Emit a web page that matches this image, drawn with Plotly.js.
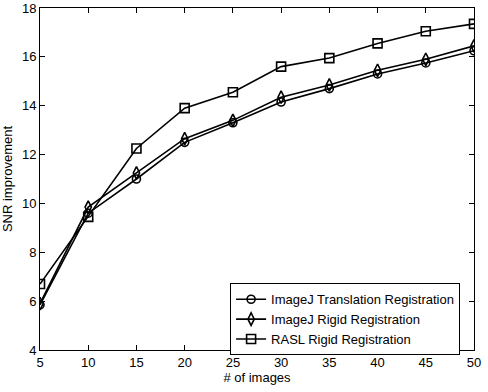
<!DOCTYPE html>
<html>
<head>
<meta charset="utf-8">
<script src="https://cdn.plot.ly/plotly-3.0.1.min.js"></script>
<style>
  body { margin: 0; background: #fff; }
  #plot { width: 488px; height: 392px; }
</style>
</head>
<body>
<div id="plot"></div>
<script>
// Number of images used in the registration
const numImages = [5, 10, 15, 20, 25, 30, 35, 40, 45, 50];

// SNR improvement per method
const translationSNR = [5.85, 9.6, 11.0, 12.5, 13.3, 14.15, 14.7, 15.3, 15.75, 16.25];
const rigidSNR = [5.9, 9.85, 11.25, 12.65, 13.4, 14.35, 14.85, 15.45, 15.9, 16.45];
const raslSNR = [6.7, 9.45, 12.25, 13.9, 14.55, 15.6, 15.95, 16.55, 17.05, 17.35];

const seriesNames = ["ImageJ Translation Registration", "ImageJ Rigid Registration", "RASL Rigid Registration"];

const xTicks = [5, 10, 15, 20, 25, 30, 35, 40, 45, 50];
const yTicks = [4, 6, 8, 10, 12, 14, 16, 18];

function makeTrace(y, name, symbol, size) {
    return {
        x: numImages,
        y: y,
        name: name,
        mode: 'lines+markers',
        line: { color: 'black', width: 1.6 },
        marker: { symbol: symbol, size: size, color: 'black', line: { color: 'black', width: 1.6 } }
    };
}

const traces = [
    makeTrace(translationSNR, seriesNames[0], 'circle-open', 8),
    makeTrace(rigidSNR, seriesNames[1], 'diamond-tall-open', 9),
    makeTrace(raslSNR, seriesNames[2], 'square-open', 9)
];

const axisCommon = {
    showline: true,
    linecolor: 'black',
    linewidth: 1,
    mirror: 'ticks',
    ticks: 'inside',
    ticklen: 5,
    tickcolor: 'black',
    showgrid: false,
    zeroline: false,
    tickfont: { size: 13, color: 'black' }
};

const layout = {
    width: 488,
    height: 392,
    margin: { l: 40, r: 14, t: 8, b: 42 },
    paper_bgcolor: 'white',
    plot_bgcolor: 'white',
    font: { family: 'Arial, "Liberation Sans", sans-serif', size: 13, color: 'black' },
    showlegend: true,
    xaxis: Object.assign({}, axisCommon, {
        range: [5, 50],
        tickvals: xTicks,
        title: { text: '# of images', font: { size: 13 }, standoff: 2 }
    }),
    yaxis: Object.assign({}, axisCommon, {
        range: [4, 18],
        tickvals: yTicks,
        title: { text: 'SNR improvement', font: { size: 13 }, standoff: 6 }
    }),
    legend: {
        x: 0.438,
        y: 0.195,
        xanchor: 'left',
        yanchor: 'top',
        bgcolor: 'white',
        bordercolor: 'black',
        borderwidth: 1,
        font: { size: 13, color: 'black' },
        tracegroupgap: 0
    }
};

Plotly.newPlot('plot', traces, layout, { staticPlot: true, displayModeBar: false });
</script>
</body>
</html>
